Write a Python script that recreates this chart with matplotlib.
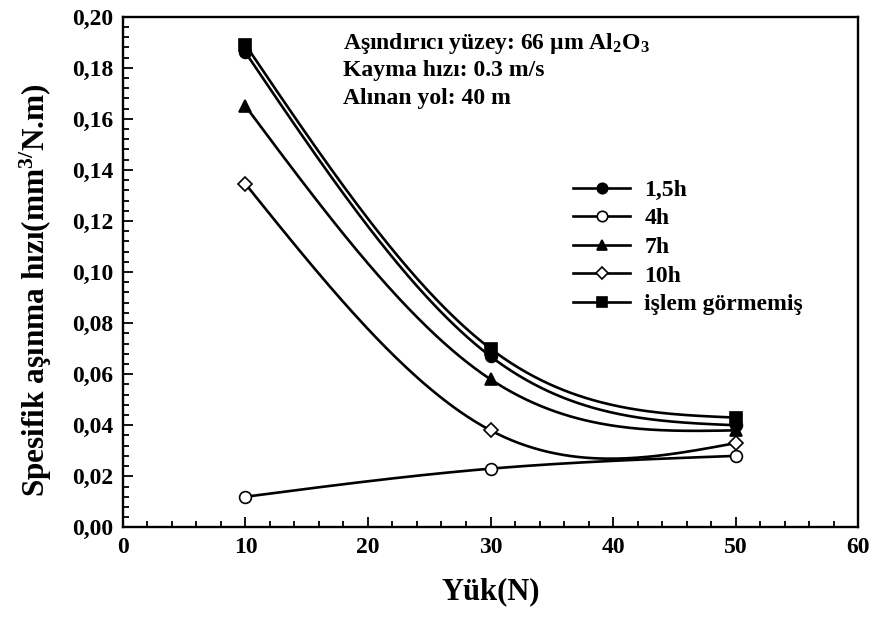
"""Specific wear rate vs load, spline curves through the measured points."""

import numpy as np
import matplotlib
matplotlib.use("Agg")
import matplotlib.pyplot as plt
from matplotlib.ticker import MultipleLocator

plt.rcParams["font.family"] = ["Liberation Serif", "DejaVu Serif"]
plt.rcParams["font.weight"] = "bold"
plt.rcParams["mathtext.fontset"] = "custom"
plt.rcParams["mathtext.rm"] = "Liberation Serif:bold"
plt.rcParams["mathtext.it"] = "Liberation Serif:bold"
plt.rcParams["mathtext.bf"] = "Liberation Serif:bold"

# ── Data ──────────────────────────────────────────────────────────────────────
loads = [10, 30, 50]   # N

labels = ["1,5h", "4h", "7h", "10h", "işlem görmemiş"]
wear_15h = [0.186, 0.067, 0.040]
wear_4h = [0.012, 0.023, 0.028]
wear_7h = [0.165, 0.058, 0.038]
wear_10h = [0.1345, 0.038, 0.033]
wear_untreated = [0.189, 0.070, 0.043]

x_ticks = [0, 10, 20, 30, 40, 50, 60]
x_ticklabels = ["0", "10", "20", "30", "40", "50", "60"]
y_ticks = [0.00, 0.02, 0.04, 0.06, 0.08, 0.10, 0.12, 0.14, 0.16, 0.18, 0.20]
y_ticklabels = ["0,00", "0,02", "0,04", "0,06", "0,08", "0,10",
                "0,12", "0,14", "0,16", "0,18", "0,20"]

notes = ["Aşındırıcı yüzey: 66 µm Al$_2$O$_3$",
         "Kayma hızı: 0.3 m/s",
         "Alınan yol: 40 m"]


def natural_spline(x, y, n=200):
    """Natural cubic spline through the points (like SigmaPlot's spline)."""
    x = np.asarray(x, float)
    y = np.asarray(y, float)
    k = len(x)
    h = np.diff(x)
    A = np.zeros((k, k))
    r = np.zeros(k)
    A[0, 0] = A[-1, -1] = 1.0
    for i in range(1, k - 1):
        A[i, i - 1] = h[i - 1]
        A[i, i] = 2 * (h[i - 1] + h[i])
        A[i, i + 1] = h[i]
        r[i] = 6 * ((y[i + 1] - y[i]) / h[i] - (y[i] - y[i - 1]) / h[i - 1])
    M = np.linalg.solve(A, r)

    xs = np.linspace(x[0], x[-1], n)
    ys = np.empty_like(xs)
    for j, xv in enumerate(xs):
        i = min(np.searchsorted(x, xv, side="right") - 1, k - 2)
        a, b = x[i + 1] - xv, xv - x[i]
        ys[j] = (M[i] * a**3 + M[i + 1] * b**3) / (6 * h[i]) \
            + (y[i] / h[i] - M[i] * h[i] / 6) * a \
            + (y[i + 1] / h[i] - M[i + 1] * h[i] / 6) * b
    return xs, ys


fig = plt.figure(figsize=(8.72, 6.19), dpi=100)
ax = fig.add_axes([0.141, 0.148, 0.843, 0.825])

series = [
    (wear_15h, "o", "black", 8.5),
    (wear_4h, "o", "white", 8.5),
    (wear_7h, "^", "black", 8.5),
    (wear_10h, "D", "white", 7.5),
    (wear_untreated, "s", "black", 8.5),
]

for (vals, mk, fc, ms), lab in zip(series, labels):
    xs, ys = natural_spline(loads, vals)
    ax.plot(xs, ys, color="black", linewidth=1.9, zorder=2)
    ax.plot(loads, vals, linestyle="none", marker=mk, markersize=ms,
            markerfacecolor=fc, markeredgecolor="black", markeredgewidth=1.2,
            zorder=3)
    # legend proxy
    ax.plot([], [], color="black", linewidth=1.9, marker=mk, markersize=ms - 1,
            markerfacecolor=fc, markeredgecolor="black", markeredgewidth=1.2,
            label=lab)

ax.set_xlim(0, 60)
ax.set_ylim(0, 0.20)
ax.set_xticks(x_ticks)
ax.set_xticklabels(x_ticklabels)
ax.set_yticks(y_ticks)
ax.set_yticklabels(y_ticklabels)
ax.xaxis.set_minor_locator(MultipleLocator(2))
ax.yaxis.set_minor_locator(MultipleLocator(0.004))
ax.tick_params(which="both", direction="in", top=False, right=False,
               labelsize=17, width=1.3)
ax.tick_params(which="major", length=7, pad=7)
ax.tick_params(which="minor", length=4)
for sp in ax.spines.values():
    sp.set_linewidth(1.7)

ax.set_xlabel("Yük(N)", fontsize=22, fontweight="bold", labelpad=14)
ax.set_ylabel("Spesifik aşınma hızı(mm$^{3/}$N.m)", fontsize=22.5,
              fontweight="bold")
ax.yaxis.set_label_coords(-0.094, 0.465)

for i, line in enumerate(notes):
    ax.text(0.300, 0.948 - i * 0.054, line, transform=ax.transAxes,
            fontsize=17, fontweight="bold", va="center", ha="left")

ax.legend(loc="upper left", bbox_to_anchor=(0.6, 0.70), frameon=False,
          fontsize=17, handlelength=2.4, labelspacing=0.3,
          handletextpad=0.6, borderaxespad=0)

fig.savefig("out.png", dpi=100)
